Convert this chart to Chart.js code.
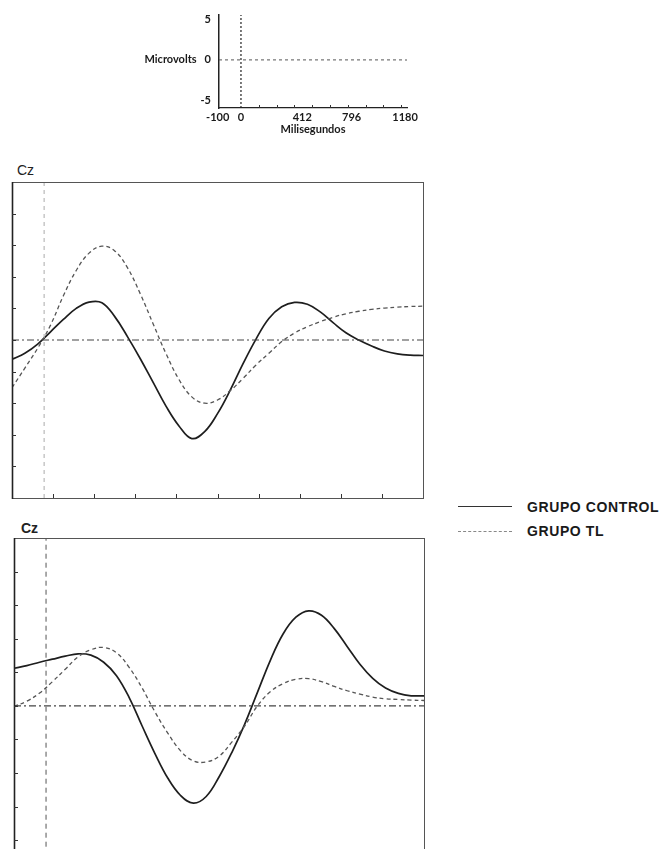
<!DOCTYPE html>
<html>
<head>
<meta charset="utf-8">
<script src="https://cdn.jsdelivr.net/npm/chart.js@4.4.1/dist/chart.umd.min.js"></script>
<style>
html,body{margin:0;padding:0;background:#fff;}
body{width:662px;height:849px;overflow:hidden;position:relative;}
canvas{position:absolute;}
.cz{position:absolute;font-family:'Liberation Sans',Arial,sans-serif;font-size:14px;color:#222;line-height:16px;}
.legline{position:absolute;width:54px;height:0;}
.legtxt{position:absolute;font-family:'Liberation Sans',Arial,sans-serif;font-weight:bold;font-size:14px;letter-spacing:0.6px;color:#1a1a1a;line-height:16px;white-space:nowrap;}
</style>
</head>
<body>
<canvas id="key" width="440" height="140" style="left:0;top:0"></canvas>
<div class="cz" style="left:17px;top:162px">Cz</div>
<canvas id="cz1" width="440" height="346" style="left:0;top:160px"></canvas>
<div class="cz" style="left:21px;top:520px;font-weight:bold">Cz</div>
<canvas id="cz2" width="440" height="360" style="left:0;top:520px"></canvas>

<div class="legline" style="left:458px;top:506px;border-top:1.4px solid #333"></div>
<div class="legtxt" style="left:527px;top:499px">GRUPO CONTROL</div>
<div class="legline" style="left:458px;top:531px;border-top:1px dashed #888"></div>
<div class="legtxt" style="left:527px;top:523px">GRUPO TL</div>

<script>
// ---- data (milliseconds, microvolts) ----
const times = [-100,-60,-20,20,60,100,140,180,220,260,300,340,380,420,460,500,540,580,620,660,700,740,780,820,860,900,940,980,1020,1060,1100,1140,1180];

const czTopControl = [-0.61,-0.42,-0.13,0.26,0.65,1.0,1.2,1.18,0.74,0.1,-0.6,-1.35,-2.1,-2.72,-3.12,-2.9,-2.33,-1.58,-0.74,0.03,0.68,1.05,1.19,1.13,0.89,0.55,0.23,0.0,-0.19,-0.35,-0.44,-0.48,-0.49];
const czTopTL      = [-1.51,-0.89,-0.26,0.47,1.4,2.2,2.75,2.97,2.82,2.28,1.45,0.5,-0.44,-1.25,-1.8,-2.0,-1.9,-1.6,-1.21,-0.79,-0.42,-0.05,0.22,0.42,0.58,0.72,0.83,0.91,0.97,1.01,1.04,1.06,1.07];

const czBottomControl = [1.12,1.2,1.3,1.39,1.48,1.55,1.51,1.3,0.9,0.24,-0.6,-1.42,-2.15,-2.67,-2.9,-2.7,-2.12,-1.39,-0.55,0.4,1.35,2.14,2.64,2.83,2.7,2.3,1.77,1.24,0.82,0.53,0.37,0.3,0.3];
const czBottomTL      = [-0.02,0.14,0.38,0.72,1.09,1.46,1.67,1.74,1.58,1.14,0.53,-0.18,-0.81,-1.34,-1.64,-1.67,-1.5,-1.08,-0.6,0.0,0.42,0.66,0.79,0.81,0.72,0.58,0.45,0.35,0.26,0.21,0.19,0.17,0.16];

const keyXLabels = [-100, 0, 412, 796, 1180];
const keyYLabels = [-5, 0, 5];
const keyMsTicks = [128,256,384,512,640,768,896,1024,1152];
const msTicks = [28,156,284,412,540,668,796,924,1052];
const uvTicks = [-4,-3,-2,-1,0,1,2,3,4];

// ---- helpers ----
const pts = (vals) => times.map((t, i) => ({x: t, y: vals[i]}));

const innerTicks = {
  id: 'innerTicks',
  afterDatasetsDraw(chart, args, o) {
    const {ctx, chartArea: a, scales: {x, y}} = chart;
    ctx.save();
    if (o.frame) {
      ctx.strokeStyle = o.frameColor;
      ctx.lineWidth = 1;
      ctx.strokeRect(Math.round(a.left) + 0.5, Math.round(a.top) + 0.5,
                     Math.round(a.right - a.left), Math.round(a.bottom - a.top));
      ctx.beginPath();
      ctx.lineWidth = 1.6;
      ctx.strokeStyle = o.leftColor;
      ctx.moveTo(Math.round(a.left) + 0.5, a.top);
      ctx.lineTo(Math.round(a.left) + 0.5, a.bottom + 1);
      ctx.stroke();
    }
    ctx.strokeStyle = o.tickColor;
    ctx.lineWidth = 1;
    ctx.beginPath();
    (o.xTicks || []).forEach(v => {
      const px = Math.round(x.getPixelForValue(v)) + 0.5;
      ctx.moveTo(px, a.bottom);
      ctx.lineTo(px, a.bottom - o.len);
    });
    (o.yTicks || []).forEach(v => {
      const py = Math.round(y.getPixelForValue(v)) + 0.5;
      ctx.moveTo(a.left, py);
      ctx.lineTo(a.left + o.len, py);
    });
    ctx.stroke();
    ctx.restore();
  }
};

const keyFont = {family: "Lato, 'DejaVu Sans', sans-serif", size: 11, weight: 'bold'};

// ---- key / scale legend chart ----
const kXMin = -158, kXMax = 1194, kYMin = -6, kYMax = 5.6;
new Chart(document.getElementById('key'), {
  type: 'line',
  data: {datasets: [
    {data: [{x: kXMin, y: 0}, {x: kXMax, y: 0}], borderColor: '#555', borderWidth: 1, borderDash: [3, 3], pointRadius: 0},
    {data: [{x: 0, y: kYMin}, {x: 0, y: kYMax}], borderColor: '#222', borderWidth: 1.2, borderDash: [2, 2], pointRadius: 0}
  ]},
  options: {
    responsive: false, animation: false, events: [],
    layout: {padding: {left: 0, top: 15, right: 33, bottom: 0}},
    plugins: {legend: {display: false}, tooltip: {enabled: false},
      innerTicks: {frame: false, xTicks: keyMsTicks, yTicks: [], len: 3, tickColor: '#333'}},
    scales: {
      x: {type: 'linear', min: kXMin, max: kXMax,
        afterBuildTicks: s => { s.ticks = keyXLabels.map(v => ({value: v})); },
        afterFit: s => { s.height = 32; },
        ticks: {autoSkip: false, maxRotation: 0, padding: 3, font: keyFont, color: '#1a1a1a',
          callback: v => v === -100 ? '-100       ' : (v === 412 ? '   412' : String(v))},
        grid: {display: false, drawTicks: false},
        border: {display: true, color: '#222', width: 1.3},
        title: {display: true, text: 'Milisegundos', font: keyFont, color: '#1a1a1a', padding: {top: 0, bottom: 4}}
      },
      y: {type: 'linear', min: kYMin, max: kYMax,
        afterBuildTicks: s => { s.ticks = keyYLabels.map(v => ({value: v})); },
        afterFit: s => { s.width = 219; },
        ticks: {autoSkip: false, padding: 8, font: keyFont, color: '#1a1a1a',
          callback: v => v === 0 ? 'Microvolts   0' : String(v)},
        grid: {display: false, drawTicks: false},
        border: {display: true, color: '#222', width: 1.5}
      }
    }
  },
  plugins: [innerTicks]
});

// ---- main ERP charts ----
function erpChart(id, control, tl, yMin, yMax, pad, vColor, vDash) {
  return new Chart(document.getElementById(id), {
    type: 'line',
    data: {datasets: [
      {data: [{x: -100, y: 0}, {x: 1180, y: 0}], borderColor: '#444', borderWidth: 1.1, borderDash: [7, 3, 2, 3], pointRadius: 0},
      {data: [{x: 0, y: -5}, {x: 0, y: 5}], borderColor: vColor, borderWidth: 1, borderDash: vDash, pointRadius: 0},
      {label: 'GRUPO TL', data: pts(tl), borderColor: '#555', borderWidth: 1.3, borderDash: [4, 3], pointRadius: 0, tension: 0.4},
      {label: 'GRUPO CONTROL', data: pts(control), borderColor: '#1e1e1e', borderWidth: 1.7, pointRadius: 0, tension: 0.4}
    ]},
    options: {
      responsive: false, animation: false, events: [],
      layout: {padding: pad},
      plugins: {legend: {display: false}, tooltip: {enabled: false},
        innerTicks: {frame: true, frameColor: '#555', leftColor: '#222', tickColor: '#333', xTicks: msTicks, yTicks: uvTicks, len: 4}},
      scales: {
        x: {type: 'linear', min: -100, max: 1180, display: false},
        y: {type: 'linear', min: yMin, max: yMax, display: false}
      }
    },
    plugins: [innerTicks]
  });
}

erpChart('cz1', czTopControl, czTopTL, -5, 5, {left: 12, top: 22, right: 17, bottom: 8}, '#aaa', [4, 4]);
erpChart('cz2', czBottomControl, czBottomTL, -4.8, 5, {left: 14, top: 18, right: 16, bottom: 13}, '#555', [5, 4]);
</script>
</body>
</html>
